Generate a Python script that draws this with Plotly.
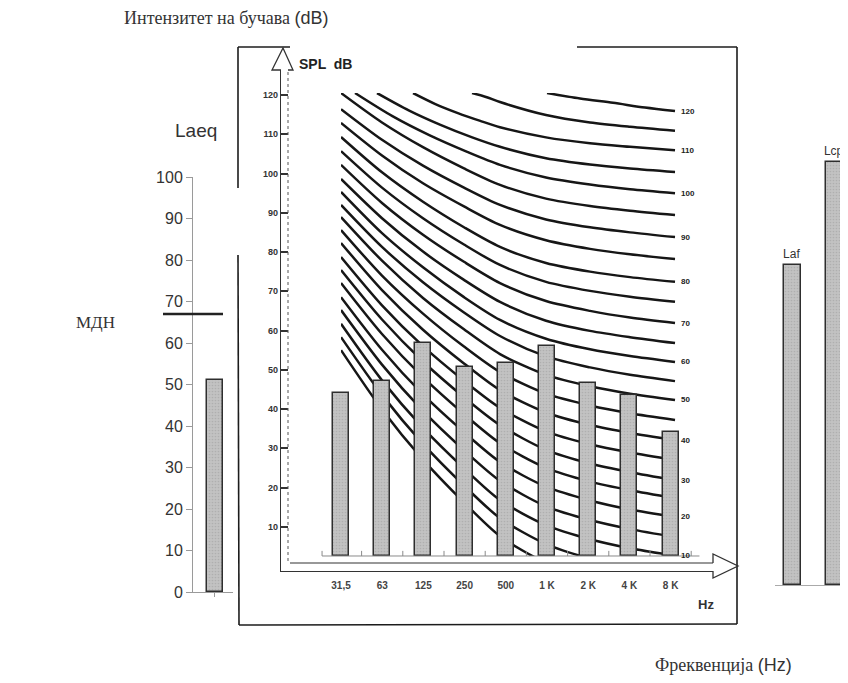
import plotly.graph_objects as go

# page offset of the plot div inside the browser page (default body margin)
OFF = 8
W, H = 848 - OFF, 683 - OFF
SANS = "Liberation Sans, Arial, sans-serif"
SERIF = "Liberation Serif, Times New Roman, serif"

# ---------------- data ----------------
laeq_values = [51]
mdn_limit = 67
laeq_ticks = list(range(0, 101, 10))

octave_labels = ["31,5", "63", "125", "250", "500", "1 K", "2 K", "4 K", "8 K"]
octave_spl = [44.2, 47.2, 56.7, 50.6, 51.6, 56.1, 46.7, 43.6, 34.2]
spl_ticks = list(range(10, 121, 10))
bar_floor = 2.55  # SPL level of the frequency scale line where the bars start

peak_labels = ["Laf", "Lcp"]
peak_values = [77, 102]

# equal-loudness contours (phon) : SPL read at positions along the octave axis
contour_pos = [0.0, 0.995, 1.99, 2.985, 3.859, 4.976, 6.044, 7.015, 8.107]
contour_levels = [0, 5, 10, 15, 20, 25, 30, 35, 40, 45, 50, 55, 60, 65, 70, 75, 80, 85, 90, 95]
contour_spl = [
    [55.0, 39.9, 27.1, 16.2, 7.6, 0.8, -3.1, -5.5, -7.6],
    [58.3, 43.6, 31.1, 20.5, 12.2, 5.6, 1.9, -0.5, -2.5],
    [61.7, 47.3, 35.2, 24.9, 16.8, 10.4, 6.8, 4.5, 2.6],
    [65.2, 51.3, 39.5, 29.5, 21.7, 15.2, 11.7, 9.4, 7.4],
    [68.5, 55.1, 43.7, 34.1, 26.5, 20.2, 16.7, 14.4, 12.5],
    [72.1, 59.1, 48.1, 38.7, 31.3, 25.0, 21.5, 19.3, 17.3],
    [75.4, 62.8, 52.1, 43.0, 35.9, 29.6, 26.1, 23.9, 21.9],
    [78.7, 66.4, 56.0, 47.2, 40.3, 34.3, 31.0, 28.9, 27.0],
    [82.3, 70.3, 60.2, 51.6, 44.8, 39.1, 35.9, 33.9, 32.1],
    [85.6, 74.0, 64.3, 55.9, 49.4, 43.9, 40.9, 38.9, 37.2],
    [88.9, 77.8, 68.3, 60.3, 54.0, 48.7, 45.8, 43.9, 42.3],
    [92.0, 81.3, 72.3, 64.6, 58.6, 53.4, 50.6, 48.7, 47.1],
    [95.3, 84.8, 76.1, 68.5, 62.7, 57.9, 55.2, 53.5, 52.0],
    [98.6, 88.6, 80.1, 72.9, 67.3, 62.5, 59.9, 58.3, 56.8],
    [102.2, 92.5, 84.4, 77.5, 72.1, 67.5, 65.0, 63.3, 61.9],
    [105.7, 96.4, 88.6, 81.9, 76.7, 72.4, 70.1, 68.6, 67.3],
    [109.3, 100.3, 92.8, 86.3, 81.3, 77.2, 75.0, 73.6, 72.4],
    [112.9, 104.6, 97.5, 91.6, 86.9, 83.0, 80.8, 79.4, 78.2],
    [116.4, 108.6, 102.0, 96.4, 92.0, 88.3, 86.3, 85.0, 83.8],
    [120.5, 113.0, 106.7, 101.3, 97.1, 93.6, 91.7, 90.5, 89.4],
]
# upper contours that enter from the top of the field
contour_top_levels = [100, 105, 110, 115, 120]
contour_top_pos = [
    [0.34, 1.248, 2.155, 3.063, 3.859, 4.976, 6.044, 7.015, 8.107],
    [0.874, 1.643, 2.415, 3.184, 3.859, 4.976, 6.044, 7.015, 8.107],
    [1.748, 2.291, 2.837, 3.381, 3.859, 4.976, 6.044, 7.015, 8.107],
    [3.18, 3.519, 3.859, 4.976, 6.044, 7.015, 8.107],
    [5.0, 5.801, 6.602, 7.379, 8.107],
]
contour_top_spl = [
    [120.5, 114.6, 109.7, 105.5, 102.2, 99.0, 97.2, 96.0, 95.0],
    [120.5, 116.1, 112.4, 109.2, 106.8, 103.9, 102.3, 101.3, 100.4],
    [120.5, 117.7, 115.4, 113.4, 111.8, 109.2, 107.7, 106.8, 105.9],
    [120.5, 119.5, 118.2, 114.9, 113.0, 111.9, 110.9],
    [120.5, 119.1, 118.0, 116.8, 115.9],
]
phon_label_levels = [10, 20, 30, 40, 50, 60, 70, 80, 90, 100, 110, 120]


# ---------------- helpers (window pixels -> paper fractions) ----------------
def fx(p):
    return (p - OFF) / W


def fy(p):
    return 1 - (p - OFF) / H


BAR_FILL = "#c2c2c2"
BAR_EDGE = "#2e2e2e"
INK = "#1c1c1c"
CURVE = "#161616"
bar_marker = dict(color=BAR_FILL, line=dict(color=BAR_EDGE, width=1.5),
                  pattern=dict(shape=".", fgcolor="#9c9c9c", bgcolor=BAR_FILL,
                               size=3, solidity=0.25))

fig = go.Figure()

# left panel : Laeq
fig.add_trace(go.Bar(
    x=[0], y=laeq_values, width=0.405, marker=bar_marker,
    xaxis="x", yaxis="y", hoverinfo="skip"))

# contour field
all_levels = {}
for lvl, spl in zip(contour_levels, contour_spl):
    all_levels[lvl] = (contour_pos, spl)
for lvl, pos, spl in zip(contour_top_levels, contour_top_pos, contour_top_spl):
    all_levels[lvl] = (pos, spl)
for lvl in sorted(all_levels):
    pos, spl = all_levels[lvl]
    fig.add_trace(go.Scatter(
        x=pos, y=spl, mode="lines",
        line=dict(color=CURVE, width=2.5, shape="spline", smoothing=0.8),
        xaxis="x2", yaxis="y2", hoverinfo="skip"))

# octave band bars
fig.add_trace(go.Bar(
    x=list(range(len(octave_labels))),
    y=[v - bar_floor for v in octave_spl], base=bar_floor, width=0.39,
    marker=bar_marker, xaxis="x3", yaxis="y3", hoverinfo="skip"))

# right panel : Laf / Lcp
fig.add_trace(go.Bar(
    x=[0, 1], y=peak_values, width=0.405,
    text=peak_labels, textposition="outside", constraintext="none", cliponaxis=False,
    textfont=dict(family=SANS, size=12, color="#333"),
    marker=bar_marker, xaxis="x4", yaxis="y4", hoverinfo="skip"))

shapes = []


def seg(x0, y0, x1, y1, color=INK, width=1.6, dash=None):
    d = dict(type="line", xref="paper", yref="paper",
             x0=fx(x0), y0=fy(y0), x1=fx(x1), y1=fy(y1),
             line=dict(color=color, width=width))
    if dash:
        d["line"]["dash"] = dash
    shapes.append(d)


def path(points, color=INK, width=1.4):
    s = "M " + " L ".join(f"{fx(x):.5f},{fy(y):.5f}" for x, y in points)
    shapes.append(dict(type="path", xref="paper", yref="paper", path=s,
                       line=dict(color=color, width=width)))


# frame of the middle graphic
seg(238, 47, 290, 47)
seg(577, 47, 737, 47)
seg(238, 47, 238, 188)
seg(238, 255, 239, 625)
seg(737, 47, 737, 624)
seg(239, 625, 737, 624)

# hollow axis arrows
seg(290, 563, 713, 563, color="#333", width=1.2)
path([(713, 563), (713, 554), (738, 566), (713, 578), (713, 571)], color="#333", width=1.3)
seg(288, 72, 288, 563, color="#555", width=1, dash="dot")
path([(281, 70), (272, 70), (283, 48), (293, 70), (288, 70)], color="#333", width=1.3)

# frequency scale line with tick marks between bands
shapes.append(dict(type="line", xref="x3", yref="y3", x0=-0.46, x1=8.7,
                   y0=bar_floor, y1=bar_floor, line=dict(color="#8a8a8a", width=1)))
for k in range(-1, 9):
    xx = k + 0.5 if k >= 0 else -0.46
    shapes.append(dict(type="line", xref="x3", yref="y3", x0=xx, x1=xx,
                       y0=bar_floor, y1=bar_floor + 1.3, line=dict(color="#8a8a8a", width=1)))

# МДН limit line
shapes.append(dict(type="line", xref="paper", yref="y", x0=fx(163), x1=fx(223),
                   y0=mdn_limit, y1=mdn_limit, line=dict(color="#222", width=2.6)))

annotations = [
    dict(text="Интензитет на бучава <span style='font-family:Liberation Sans'>(dB)</span>",
         x=fx(122), y=fy(18), xanchor="left", yanchor="middle",
         font=dict(family=SERIF, size=18, color="#333")),
    dict(text="Фреквенција <span style='font-family:Liberation Sans'>(Hz)</span>",
         x=fx(653), y=fy(665), xanchor="left", yanchor="middle",
         font=dict(family=SERIF, size=18, color="#333")),
    dict(text="Laeq", x=fx(196), y=fy(130), xanchor="center", yanchor="middle",
         font=dict(family=SANS, size=19, color="#333")),
    dict(text="МДН", x=fx(74), y=fy(322), xanchor="left", yanchor="middle",
         font=dict(family=SERIF, size=17, color="#333")),
    dict(text="<b>SPL  dB</b>", x=fx(297), y=fy(64), xanchor="left", yanchor="middle",
         font=dict(family=SANS, size=14, color="#222")),
    dict(text="<b>Hz</b>", x=fx(706), y=fy(604), xanchor="center", yanchor="middle",
         font=dict(family=SANS, size=13, color="#333")),
]
for lvl in phon_label_levels:
    pos, spl = all_levels[lvl]
    annotations.append(dict(
        text=f"<b>{lvl}</b>", xref="x2", yref="y2", x=(679 - 341) / 41.2, y=spl[-1],
        xanchor="left", yanchor="middle", showarrow=False,
        font=dict(family=SANS, size=8, color="#222")))
for a in annotations:
    a.setdefault("xref", "paper")
    a.setdefault("yref", "paper")
    a.setdefault("showarrow", False)

hidden = dict(showgrid=False, zeroline=False, showticklabels=False, ticks="",
              showline=False, automargin=False)

fig.update_layout(
    width=W, height=H, margin=dict(l=0, r=0, t=0, b=0, pad=0, autoexpand=False),
    paper_bgcolor="white", plot_bgcolor="rgba(0,0,0,0)",
    showlegend=False, bargap=0,
    shapes=shapes, annotations=annotations,
    xaxis=dict(domain=[fx(193), fx(233)], range=[-0.54, 0.46], anchor="y",
               showline=True, linecolor="#9a9a9a", linewidth=1,
               tickvals=[0], ticks="outside", ticklen=4, tickcolor="#9a9a9a",
               showticklabels=False, showgrid=False, zeroline=False, automargin=False),
    yaxis=dict(domain=[fy(592), fy(177)], range=[0, 100], anchor="x",
               tickvals=laeq_ticks, ticks="outside", ticklen=6, tickcolor="#9a9a9a",
               showline=True, linecolor="#9a9a9a", linewidth=1,
               tickfont=dict(family=SANS, size=16, color="#333"),
               showgrid=False, zeroline=False, automargin=False),
    xaxis2=dict(domain=[fx(341), fx(700)], range=[0, (700 - 341) / 41.2], anchor="y2", **hidden),
    yaxis2=dict(domain=[fy(556), fy(93)], range=[(566 - 556) / 3.925, (566 - 93) / 3.925],
                anchor="x2", **hidden),
    xaxis3=dict(domain=[fx(281), fx(713)], range=[-60 / 41.2, (713 - 341) / 41.2], anchor="y3",
                tickvals=list(range(len(octave_labels))), ticktext=octave_labels,
                ticks="outside", ticklen=5, tickcolor="rgba(0,0,0,0)",
                showline=True, linecolor="#333", linewidth=1.3,
                tickfont=dict(family=SANS, size=10, color="#444", weight="bold"),
                showgrid=False, zeroline=False, automargin=False),
    yaxis3=dict(domain=[fy(571), fy(70)], range=[-(571 - 566) / 3.925, (566 - 70) / 3.925],
                anchor="x3", tickvals=spl_ticks, ticks="inside", ticklen=7, tickwidth=1.5,
                tickcolor="#333", showline=True, linecolor="#333", linewidth=1.3,
                tickfont=dict(family=SANS, size=9, color="#333", weight="bold"),
                showgrid=False, zeroline=False, automargin=False),
    xaxis4=dict(domain=[fx(775), 1.0], range=[-0.417, 1.321], anchor="y4",
                showline=True, linecolor="#aaaaaa", linewidth=1,
                showticklabels=False, ticks="", showgrid=False, zeroline=False, automargin=False),
    yaxis4=dict(domain=[fy(585), fy(140)], range=[0, (585 - 140) / 4.15], anchor="x4", **hidden),
)

fig.write_html("out.html")
